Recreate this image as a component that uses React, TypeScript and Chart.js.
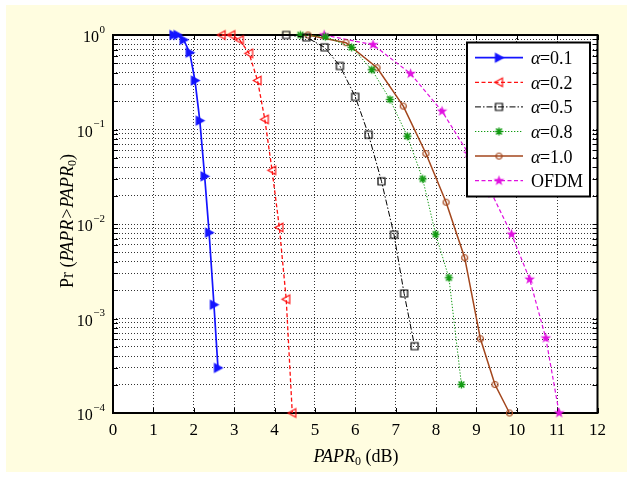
import React, { useEffect, useRef } from "react";
import { Chart, registerables } from "chart.js";

Chart.register(...registerables);

// ---------- data ----------
const xTicks = [0, 1, 2, 3, 4, 5, 6, 7, 8, 9, 10, 11, 12];
const yTicks = [
  0.0001, 0.0002, 0.0003, 0.0004, 0.0005, 0.0006, 0.0007, 0.0008, 0.0009,
  0.001, 0.002, 0.003, 0.004, 0.005, 0.006, 0.007, 0.008, 0.009,
  0.01, 0.02, 0.03, 0.04, 0.05, 0.06, 0.07, 0.08, 0.09,
  0.1, 0.2, 0.3, 0.4, 0.5, 0.6, 0.7, 0.8, 0.9,
  1,
];
const yLabelExps = [0, -1, -2, -3, -4];

const seriesLabels = ["α=0.1", "α=0.2", "α=0.5", "α=0.8", "α=1.0", "OFDM"];

const a01X = [1.5, 1.6, 1.75, 1.9, 2.03, 2.15, 2.27, 2.38, 2.5, 2.6];
const a01Y = [1, 1, 0.89, 0.65, 0.33, 0.124, 0.032, 0.0081, 0.0014, 0.0003];

const a02X = [2.69, 2.93, 3.14, 3.37, 3.58, 3.76, 3.94, 4.12, 4.29, 4.44];
const a02Y = [1, 1, 0.885, 0.64, 0.33, 0.128, 0.037, 0.0092, 0.0016, 0.0001];

const a05X = [4.29, 4.79, 5.24, 5.62, 6.0, 6.33, 6.65, 6.96, 7.21, 7.47];
const a05Y = [1, 0.945, 0.74, 0.47, 0.222, 0.088, 0.0283, 0.0077, 0.00184, 0.00051];

const a08X = [4.64, 5.26, 5.91, 6.41, 6.86, 7.29, 7.67, 7.99, 8.32, 8.63];
const a08Y = [1, 0.96, 0.74, 0.43, 0.208, 0.085, 0.03, 0.0078, 0.0027, 0.0002];

const a10X = [4.83, 5.77, 6.54, 7.19, 7.75, 8.25, 8.71, 9.1, 9.46, 9.82];
const a10Y = [1, 0.83, 0.45, 0.177, 0.0557, 0.017, 0.0044, 0.00061, 0.0002, 0.0001];

const ofdmX = [5.23, 6.44, 7.37, 8.15, 8.8, 9.38, 9.87, 10.32, 10.72, 11.05];
const ofdmY = [1, 0.79, 0.39, 0.156, 0.056, 0.021, 0.0078, 0.0026, 0.00062, 0.0001];

// ---------- styles ----------
const SERIF = '"Liberation Serif", "Times New Roman", serif';
const colors = ["#1414ff", "#ff1010", "#000000", "#119a11", "#a3461c", "#e010e0"];
const dashes = [[], [4, 2.5], [6, 2, 1.5, 2], [1.3, 1.7], [], [4, 2.5]];
const widths = [1.7, 1.3, 1, 1, 1.5, 1.2];
const markerKinds = ["triR", "triL", "square", "aster", "circle", "pent"];

function makeMarker(kind: string, color: string): HTMLCanvasElement {
  const c = document.createElement("canvas");
  c.width = 13;
  c.height = 13;
  const g = c.getContext("2d")!;
  g.translate(6.5, 6.5);
  g.strokeStyle = color;
  g.fillStyle = color;
  g.lineWidth = 1.2;
  g.beginPath();
  if (kind === "triR") {
    g.moveTo(-3.5, -4.3);
    g.lineTo(4.3, 0);
    g.lineTo(-3.5, 4.3);
    g.closePath();
    g.fill();
    g.stroke();
  } else if (kind === "triL") {
    g.moveTo(3.5, -4.2);
    g.lineTo(-4.2, 0);
    g.lineTo(3.5, 4.2);
    g.closePath();
    g.stroke();
  } else if (kind === "square") {
    g.rect(-3.5, -3.5, 7, 7);
    g.stroke();
  } else if (kind === "aster") {
    g.lineWidth = 1.4;
    const r = 4;
    const d = 2.9;
    g.moveTo(-r, 0); g.lineTo(r, 0);
    g.moveTo(0, -r); g.lineTo(0, r);
    g.moveTo(-d, -d); g.lineTo(d, d);
    g.moveTo(-d, d); g.lineTo(d, -d);
    g.stroke();
  } else if (kind === "circle") {
    g.arc(0, 0, 3, 0, Math.PI * 2);
    g.stroke();
  } else if (kind === "pent") {
    const R = 5.6;
    const r = 2.3;
    for (let i = 0; i < 10; i++) {
      const ang = -Math.PI / 2 + (i * Math.PI) / 5;
      const rr = i % 2 === 0 ? R : r;
      const px = Math.cos(ang) * rr;
      const py = Math.sin(ang) * rr;
      if (i === 0) g.moveTo(px, py);
      else g.lineTo(px, py);
    }
    g.closePath();
    g.fill();
  }
  return c;
}

function drawRuns(ctx: CanvasRenderingContext2D, runs: { t: string; font: string; dy: number }[], x: number, y: number) {
  let total = 0;
  for (const r of runs) {
    ctx.font = r.font;
    total += ctx.measureText(r.t).width;
  }
  let cx = x - total / 2;
  for (const r of runs) {
    ctx.font = r.font;
    ctx.fillText(r.t, cx, y + r.dy);
    cx += ctx.measureText(r.t).width;
  }
}

export default function App() {
  const ref = useRef<HTMLCanvasElement>(null);

  useEffect(() => {
    const markers = markerKinds.map((k, i) => makeMarker(k, colors[i]));
    const xs = [a01X, a02X, a05X, a08X, a10X, ofdmX];
    const ys = [a01Y, a02Y, a05Y, a08Y, a10Y, ofdmY];

    const datasets = seriesLabels.map((label, i) => ({
      label,
      data: xs[i].map((x, j) => ({ x, y: ys[i][j] })),
      borderColor: colors[i],
      backgroundColor: colors[i],
      borderWidth: widths[i],
      borderDash: dashes[i],
      pointStyle: markers[i],
      pointRadius: 5,
      pointHoverRadius: 5,
      tension: 0,
      fill: false,
      clip: false as any,
      showLine: true,
    }));

    const plugin: any = {
      id: "matlabDecor",
      beforeDraw(chart: any) {
        const { ctx, chartArea: a } = chart;
        ctx.save();
        ctx.fillStyle = "#ffffff";
        ctx.fillRect(a.left, a.top, a.right - a.left, a.bottom - a.top);
        ctx.restore();
      },
      beforeDatasetsDraw(chart: any) {
        const { ctx, chartArea: a, scales } = chart;
        ctx.save();
        ctx.setLineDash([]);
        ctx.strokeStyle = "#000";
        ctx.lineWidth = 1;
        ctx.beginPath();
        for (const v of yTicks) {
          const y = Math.round(scales.y.getPixelForValue(v)) + 0.5;
          ctx.moveTo(a.left, y); ctx.lineTo(a.left + 5, y);
          ctx.moveTo(a.right, y); ctx.lineTo(a.right - 5, y);
        }
        for (const v of xTicks) {
          const x = Math.round(scales.x.getPixelForValue(v)) + 0.5;
          ctx.moveTo(x, a.bottom); ctx.lineTo(x, a.bottom - 5);
          ctx.moveTo(x, a.top); ctx.lineTo(x, a.top + 5);
        }
        ctx.stroke();
        ctx.lineWidth = 2;
        ctx.strokeRect(a.left, a.top, a.right - a.left, a.bottom - a.top);
        ctx.restore();
      },
      afterDatasetsDraw(chart: any) {
        const { ctx } = chart;
        ctx.save();
        const L = 467, T = 42.5, W = 123, H = 154;
        ctx.setLineDash([]);
        ctx.fillStyle = "#ffffff";
        ctx.fillRect(L, T, W, H);
        ctx.strokeStyle = "#000";
        ctx.lineWidth = 2;
        ctx.strokeRect(L, T, W, H);
        seriesLabels.forEach((label, i) => {
          const y = 57.7 + i * 24.6;
          ctx.save();
          ctx.strokeStyle = colors[i];
          ctx.lineWidth = widths[i];
          ctx.setLineDash(dashes[i]);
          ctx.beginPath();
          ctx.moveTo(475, y);
          ctx.lineTo(523, y);
          ctx.stroke();
          ctx.restore();
          const m = markers[i];
          ctx.drawImage(m, 499 - m.width / 2, y - m.height / 2);
          ctx.fillStyle = "#000";
          ctx.textAlign = "left";
          ctx.textBaseline = "alphabetic";
          let tx = 531;
          const by = y + 6.5;
          if (label.startsWith("α")) {
            ctx.font = `italic 18px ${SERIF}`;
            ctx.fillText("α", tx, by);
            tx += ctx.measureText("α").width - 0.5;
            ctx.font = `18px ${SERIF}`;
            ctx.fillText(label.slice(1), tx, by);
          } else {
            ctx.font = `18px ${SERIF}`;
            ctx.fillText(label, tx, by);
          }
        });
        ctx.restore();
      },
      afterDraw(chart: any) {
        const { ctx, scales } = chart;
        ctx.save();
        ctx.fillStyle = "#000";
        ctx.textBaseline = "alphabetic";
        ctx.font = `17px ${SERIF}`;
        ctx.textAlign = "center";
        for (const v of xTicks) {
          ctx.fillText(String(v), scales.x.getPixelForValue(v), 435);
        }
        ctx.textAlign = "right";
        for (const p of yLabelExps) {
          const y = scales.y.getPixelForValue(Math.pow(10, p));
          const exp = p === 0 ? "0" : "\u2212" + Math.abs(p);
          ctx.font = `11px ${SERIF}`;
          const ew = ctx.measureText(exp).width;
          ctx.fillText(exp, 105, y - 2.5);
          ctx.font = `16px ${SERIF}`;
          ctx.fillText("10", 105 - ew - 0.5, y + 7);
        }
        ctx.textAlign = "left";
        drawRuns(
          ctx,
          [
            { t: "PAPR", font: `italic 18px ${SERIF}`, dy: 0 },
            { t: "0", font: `12px ${SERIF}`, dy: 3 },
            { t: " (dB)", font: `18px ${SERIF}`, dy: 0 },
          ],
          356,
          461.5
        );
        ctx.save();
        ctx.translate(73, 221);
        ctx.rotate(-Math.PI / 2);
        drawRuns(
          ctx,
          [
            { t: "Pr (", font: `18px ${SERIF}`, dy: 0 },
            { t: "PAPR>PAPR", font: `italic 18px ${SERIF}`, dy: 0 },
            { t: "0", font: `12px ${SERIF}`, dy: 3 },
            { t: ")", font: `18px ${SERIF}`, dy: 0 },
          ],
          0,
          0
        );
        ctx.restore();
        ctx.restore();
      },
    };

    const chart = new Chart(ref.current!, {
      type: "line",
      data: { datasets: datasets as any },
      options: {
        responsive: false,
        maintainAspectRatio: false,
        animation: false,
        devicePixelRatio: 1,
        events: [],
        layout: { padding: { left: 0, top: 35, right: 35.5, bottom: 0 } },
        plugins: {
          legend: { display: false },
          tooltip: { enabled: false },
          title: { display: false },
        },
        scales: {
          x: {
            type: "linear",
            min: 0,
            max: 12,
            ticks: { display: false, stepSize: 1 },
            afterBuildTicks: (s: any) => {
              s.ticks = xTicks.map((v) => ({ value: v }));
            },
            afterFit: (s: any) => {
              s.height = 64;
            },
            grid: { display: true, color: "rgba(0,0,0,0.8)", lineWidth: 1, drawTicks: false },
            border: { display: false, dash: [1, 2] },
          },
          y: {
            type: "logarithmic",
            min: 0.0001,
            max: 1,
            ticks: { display: false },
            afterBuildTicks: (s: any) => {
              s.ticks = yTicks.map((v) => ({ value: v }));
            },
            afterFit: (s: any) => {
              s.width = 113;
            },
            grid: { display: true, color: "rgba(0,0,0,0.8)", lineWidth: 1, drawTicks: false },
            border: { display: false, dash: [1, 2] },
          },
        },
      } as any,
      plugins: [plugin],
    });
    return () => chart.destroy();
  }, []);

  return (
    <div style={{ position: "fixed", left: 0, top: 0, width: 633, height: 477, background: "#ffffff" }}>
      <div style={{ position: "absolute", left: 6, top: 5, width: 621, height: 467, background: "#fffde0" }} />
      <canvas
        ref={ref}
        width={633}
        height={477}
        style={{ position: "absolute", left: 0, top: 0, width: 633, height: 477 }}
      />
    </div>
  );
}
